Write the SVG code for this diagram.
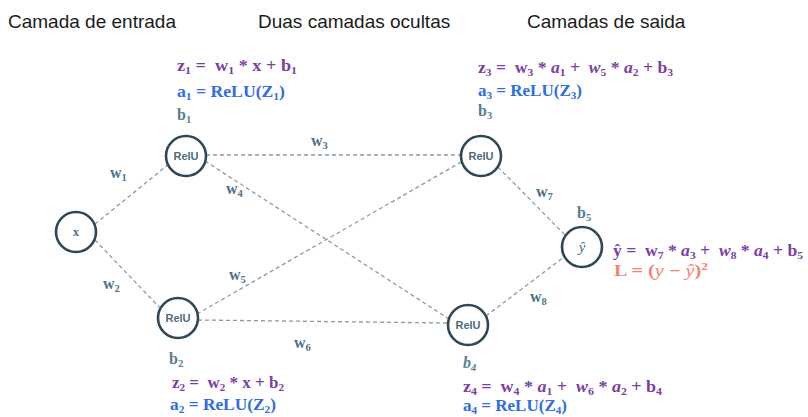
<svg xmlns="http://www.w3.org/2000/svg" width="808" height="417" viewBox="0 0 808 417">
  <style>
    .hdr { font-family: "Liberation Sans", Arial, sans-serif; font-size: 19px; fill: #1b1b1b; }
    .eq { font-family: "Liberation Serif", "DejaVu Serif", serif; font-size: 16px; font-weight: bold; white-space: pre; }
    .pz { fill: #7b40a6; }
    .pa { fill: #2f6de0; }
    .pb { fill: #58808f; font-family: "Liberation Serif", serif; font-size: 16px; font-weight: bold; }
    .pw { fill: #4d7288; font-family: "Liberation Serif", serif; font-size: 16px; font-weight: bold; }
    .pl { fill: #f2846f; }
    .it { font-style: italic; }
    .sb { font-size: 10.5px; }
    .node circle { fill: #ffffff; stroke: #2e4857; stroke-width: 2.6; }
    .node text { font-family: "Liberation Sans", Arial, sans-serif; font-size: 11px; font-weight: bold; fill: #4d6b7b; text-anchor: middle; }
    .edges line { stroke: #8a9ca8; stroke-width: 1.3; stroke-dasharray: 4 3; }
  </style>
  <rect width="808" height="417" fill="#ffffff"/>

  <!-- layer headings -->
  <text class="hdr" x="8" y="28">Camada de entrada</text>
  <text class="hdr" x="258" y="28">Duas camadas ocultas</text>
  <text class="hdr" x="527" y="28">Camadas de saida</text>

  <!-- connectors, edge to edge between neurons -->
  <g id="edges" class="edges">
    <line x1="95" y1="224" x2="169" y2="164"/>
    <line x1="95" y1="240" x2="162" y2="310"/>
    <line x1="206" y1="155" x2="461" y2="155"/>
    <line x1="205" y1="161" x2="449" y2="319"/>
    <line x1="197" y1="314" x2="463" y2="161"/>
    <line x1="198" y1="320" x2="448" y2="323"/>
    <line x1="498" y1="167" x2="566" y2="236"/>
    <line x1="486" y1="316" x2="564" y2="257"/>
  </g>

  <!-- weight labels -->
  <g id="weights" class="pw">
    <text x="110" y="178">w<tspan class="sb" dy="3">1</tspan></text>
    <text x="103" y="289">w<tspan class="sb" dy="3">2</tspan></text>
    <text x="311" y="146">w<tspan class="sb" dy="3">3</tspan></text>
    <text x="226" y="194">w<tspan class="sb" dy="3">4</tspan></text>
    <text x="229" y="280">w<tspan class="sb" dy="3">5</tspan></text>
    <text x="294" y="348">w<tspan class="sb" dy="3">6</tspan></text>
    <text x="536" y="197">w<tspan class="sb" dy="3">7</tspan></text>
    <text x="530" y="302">w<tspan class="sb" dy="3">8</tspan></text>
  </g>

  <!-- nodes -->
  <g id="node-x" class="node">
    <circle cx="76" cy="232" r="20"/>
    <text x="76" y="236" style="font-family:'Liberation Serif',serif;font-size:12px">x</text>
  </g>
  <g id="node-h1" class="node">
    <circle cx="186" cy="156" r="20"/>
    <text x="186" y="160">RelU</text>
  </g>
  <g id="node-h2" class="node">
    <circle cx="178" cy="318" r="20"/>
    <text x="178" y="322">RelU</text>
  </g>
  <g id="node-h3" class="node">
    <circle cx="481" cy="156" r="20"/>
    <text x="481" y="160">RelU</text>
  </g>
  <g id="node-h4" class="node">
    <circle cx="468" cy="325" r="20"/>
    <text x="468" y="329">RelU</text>
  </g>
  <g id="node-out" class="node">
    <circle cx="582" cy="247" r="20"/>
    <text x="582" y="252" style="font-family:'Liberation Serif',serif;font-size:15px;font-style:italic;font-weight:normal">ŷ</text>
  </g>

  <!-- neuron 1 -->
  <text class="eq pz" x="177" y="71" textLength="120" lengthAdjust="spacingAndGlyphs">z<tspan class="sb" dy="3">1</tspan><tspan dy="-3"> =  w</tspan><tspan class="sb" dy="3">1</tspan><tspan dy="-3"> * x + b</tspan><tspan class="sb" dy="3">1</tspan></text>
  <text class="eq pa" x="177" y="97" textLength="108" lengthAdjust="spacingAndGlyphs">a<tspan class="sb" dy="3">1</tspan><tspan dy="-3"> = ReLU(Z</tspan><tspan class="sb" dy="3">1</tspan><tspan dy="-3">)</tspan></text>
  <text class="pb" x="177" y="120">b<tspan class="sb" dy="3">1</tspan></text>

  <!-- neuron 2 -->
  <text class="pb" x="169" y="364">b<tspan class="sb" dy="3">2</tspan></text>
  <text class="eq pz" x="172" y="388" textLength="112" lengthAdjust="spacingAndGlyphs">z<tspan class="sb" dy="3">2</tspan><tspan dy="-3"> =  w</tspan><tspan class="sb" dy="3">2</tspan><tspan dy="-3"> * x + b</tspan><tspan class="sb" dy="3">2</tspan></text>
  <text class="eq pa" x="170" y="410" textLength="106" lengthAdjust="spacingAndGlyphs">a<tspan class="sb" dy="3">2</tspan><tspan dy="-3"> = ReLU(Z</tspan><tspan class="sb" dy="3">2</tspan><tspan dy="-3">)</tspan></text>

  <!-- neuron 3 -->
  <text class="eq pz" x="478" y="73" textLength="195" lengthAdjust="spacingAndGlyphs">z<tspan class="sb" dy="3">3</tspan><tspan dy="-3"> =  w</tspan><tspan class="sb" dy="3">3</tspan><tspan dy="-3"> * </tspan><tspan class="it">a</tspan><tspan class="sb" dy="3">1</tspan><tspan dy="-3"> +  </tspan><tspan class="it">w</tspan><tspan class="sb" dy="3">5</tspan><tspan dy="-3"> * </tspan><tspan class="it">a</tspan><tspan class="sb" dy="3">2</tspan><tspan dy="-3"> + b</tspan><tspan class="sb" dy="3">3</tspan></text>
  <text class="eq pa" x="478" y="96" textLength="104" lengthAdjust="spacingAndGlyphs">a<tspan class="sb" dy="3">3</tspan><tspan dy="-3"> = ReLU(Z</tspan><tspan class="sb" dy="3">3</tspan><tspan dy="-3">)</tspan></text>
  <text class="pb" x="478" y="116">b<tspan class="sb" dy="3">3</tspan></text>

  <!-- neuron 4 -->
  <text class="pb it" x="463" y="368">b<tspan class="sb" dy="3">4</tspan></text>
  <text class="eq pz" x="463" y="392" textLength="199" lengthAdjust="spacingAndGlyphs">z<tspan class="sb" dy="3">4</tspan><tspan dy="-3"> =  w</tspan><tspan class="sb" dy="3">4</tspan><tspan dy="-3"> * </tspan><tspan class="it">a</tspan><tspan class="sb" dy="3">1</tspan><tspan dy="-3"> +  </tspan><tspan class="it">w</tspan><tspan class="sb" dy="3">6</tspan><tspan dy="-3"> * </tspan><tspan class="it">a</tspan><tspan class="sb" dy="3">2</tspan><tspan dy="-3"> + b</tspan><tspan class="sb" dy="3">4</tspan></text>
  <text class="eq pa" x="463" y="411" textLength="104" lengthAdjust="spacingAndGlyphs">a<tspan class="sb" dy="3">4</tspan><tspan dy="-3"> = ReLU(Z</tspan><tspan class="sb" dy="3">4</tspan><tspan dy="-3">)</tspan></text>

  <!-- output neuron -->
  <text class="pb" x="577" y="218">b<tspan class="sb" dy="3">5</tspan></text>
  <text class="eq pz" x="613" y="256" textLength="190" lengthAdjust="spacingAndGlyphs">ŷ =  w<tspan class="sb" dy="3">7</tspan><tspan dy="-3"> * </tspan><tspan class="it">a</tspan><tspan class="sb" dy="3">3</tspan><tspan dy="-3"> +  </tspan><tspan class="it">w</tspan><tspan class="sb" dy="3">8</tspan><tspan dy="-3"> * </tspan><tspan class="it">a</tspan><tspan class="sb" dy="3">4</tspan><tspan dy="-3"> + b</tspan><tspan class="sb" dy="3">5</tspan></text>
  <text class="eq pl" x="614" y="276" textLength="94" lengthAdjust="spacingAndGlyphs">L = (<tspan class="it" font-weight="normal">y</tspan> − <tspan class="it" font-weight="normal">ŷ</tspan>)<tspan class="sb" dy="-6">2</tspan></text>
</svg>
